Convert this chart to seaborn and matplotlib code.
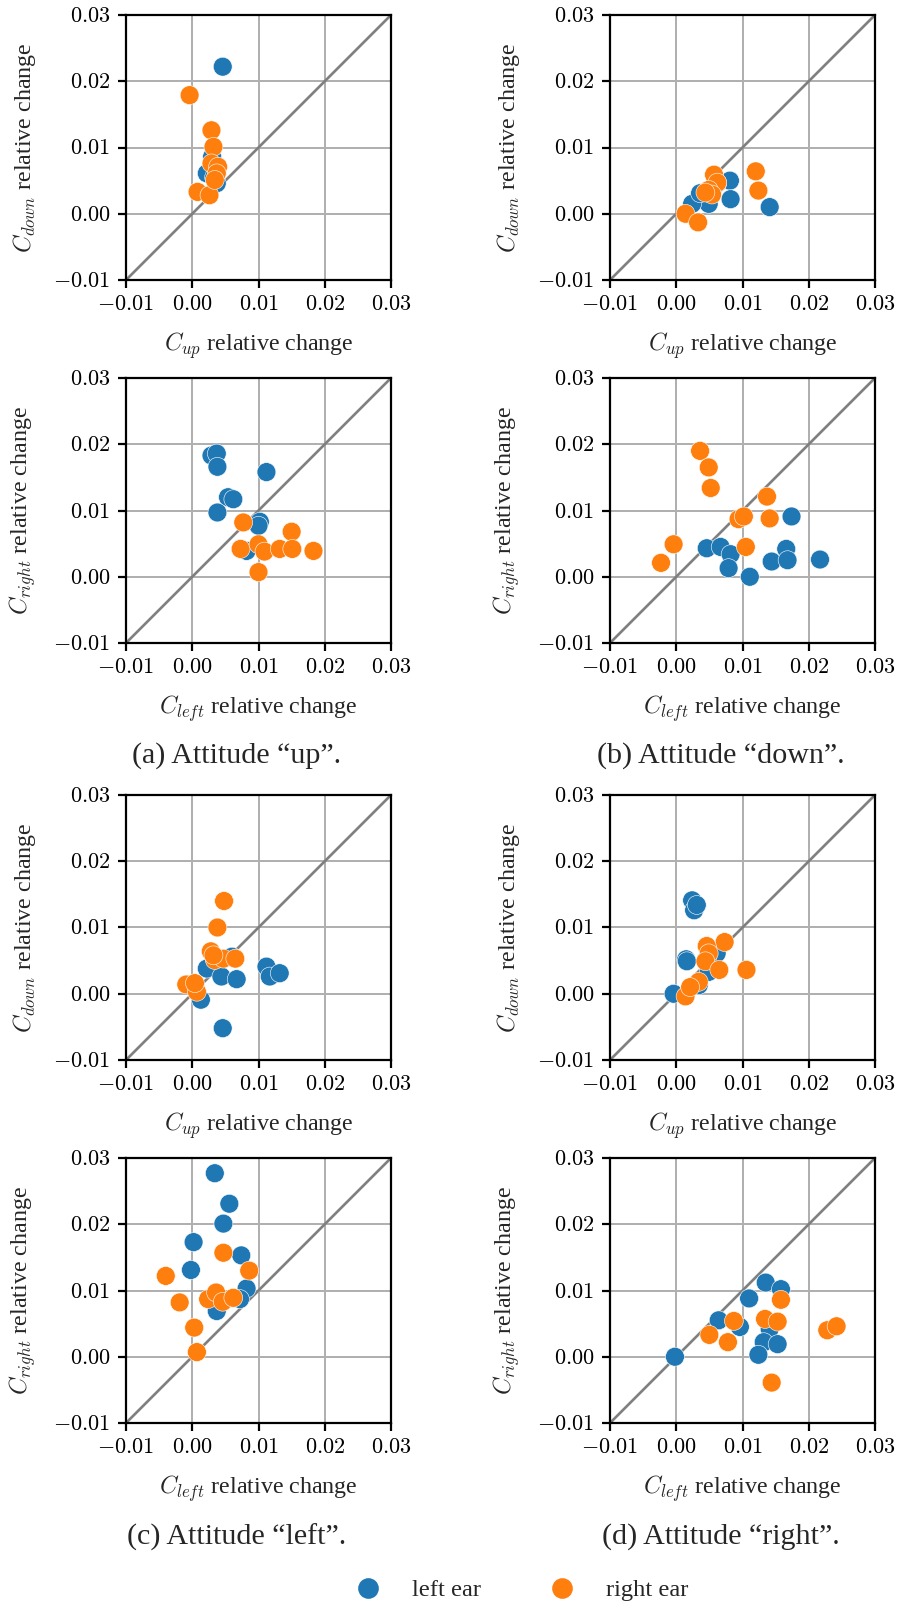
import numpy as np
import pandas as pd
import seaborn as sns
import matplotlib.pyplot as plt
from matplotlib.ticker import FuncFormatter
from matplotlib.lines import Line2D

# relative changes, one pair of lists per ear and panel
# attitude "up"
up_ud_left_x = [0.0046, 0.0030, 0.0022, 0.0037, 0.0033]
up_ud_left_y = [0.0222, 0.0086, 0.0061, 0.0046, 0.0055]
up_ud_right_x = [-0.0004, 0.0029, 0.0032, 0.0029, 0.0039, 0.0037, 0.0008, 0.0026, 0.0034]
up_ud_right_y = [0.0179, 0.0126, 0.0101, 0.0076, 0.0071, 0.0061, 0.0033, 0.0028, 0.0051]
up_lr_left_x = [0.0029, 0.0037, 0.0038, 0.0112, 0.0054, 0.0062, 0.0038, 0.0102, 0.0100, 0.0082]
up_lr_left_y = [0.0183, 0.0186, 0.0166, 0.0158, 0.0120, 0.0117, 0.0097, 0.0083, 0.0077, 0.0039]
up_lr_right_x = [0.0077, 0.0073, 0.0100, 0.0109, 0.0132, 0.0150, 0.0151, 0.0183, 0.0100]
up_lr_right_y = [0.0082, 0.0042, 0.0049, 0.0038, 0.0042, 0.0068, 0.0042, 0.0039, 0.0007]

# attitude "down"
down_ud_left_x = [0.0081, 0.0082, 0.0141, 0.0049, 0.0024, 0.0036, 0.0062]
down_ud_left_y = [0.0050, 0.0022, 0.0010, 0.0015, 0.0015, 0.0031, 0.0046]
down_ud_right_x = [0.0120, 0.0124, 0.0057, 0.0062, 0.0049, 0.0054, 0.0044, 0.0014, 0.0033]
down_ud_right_y = [0.0064, 0.0035, 0.0059, 0.0047, 0.0036, 0.0029, 0.0032, 0.0000, -0.0013]
down_lr_left_x = [0.0174, 0.0046, 0.0067, 0.0082, 0.0079, 0.0111, 0.0144, 0.0166, 0.0168, 0.0217]
down_lr_left_y = [0.0091, 0.0043, 0.0045, 0.0034, 0.0013, 0.0000, 0.0023, 0.0042, 0.0025, 0.0026]
down_lr_right_x = [0.0036, 0.0049, 0.0052, 0.0137, 0.0141, 0.0094, 0.0102, 0.0105, -0.0004, -0.0023]
down_lr_right_y = [0.0190, 0.0165, 0.0134, 0.0121, 0.0088, 0.0087, 0.0091, 0.0045, 0.0049, 0.0021]

# attitude "left"
left_ud_left_x = [0.0022, 0.0044, 0.0067, 0.0060, 0.0112, 0.0117, 0.0132, 0.0013, 0.0046]
left_ud_left_y = [0.0038, 0.0026, 0.0022, 0.0056, 0.0041, 0.0026, 0.0031, -0.0009, -0.0052]
left_ud_right_x = [0.0048, 0.0038, 0.0028, -0.0009, 0.0007, 0.0004, 0.0034, 0.0047, 0.0065, 0.0032]
left_ud_right_y = [0.0140, 0.0100, 0.0064, 0.0014, 0.0003, 0.0016, 0.0051, 0.0053, 0.0053, 0.0058]
left_lr_left_x = [0.0034, 0.0056, 0.0047, 0.0002, -0.0002, 0.0074, 0.0082, 0.0072, 0.0037]
left_lr_left_y = [0.0277, 0.0231, 0.0201, 0.0173, 0.0131, 0.0153, 0.0103, 0.0087, 0.0069]
left_lr_right_x = [0.0047, 0.0086, -0.0040, -0.0019, 0.0024, 0.0036, 0.0046, 0.0062, 0.0003, 0.0007]
left_lr_right_y = [0.0157, 0.0130, 0.0122, 0.0082, 0.0087, 0.0097, 0.0083, 0.0089, 0.0044, 0.0007]

# attitude "right"
right_ud_left_x = [0.0024, 0.0027, 0.0031, 0.0015, 0.0016, -0.0004, 0.0034, 0.0049, 0.0061, 0.0046]
right_ud_left_y = [0.0141, 0.0126, 0.0134, 0.0052, 0.0049, 0.0000, 0.0013, 0.0033, 0.0061, 0.0051]
right_ud_right_x = [0.0073, 0.0046, 0.0049, 0.0044, 0.0065, 0.0106, 0.0034, 0.0014, 0.0021]
right_ud_right_y = [0.0078, 0.0072, 0.0061, 0.0049, 0.0036, 0.0036, 0.0018, -0.0004, 0.0010]
right_lr_left_x = [-0.0002, 0.0064, 0.0096, 0.0110, 0.0135, 0.0158, 0.0141, 0.0132, 0.0124, 0.0153]
right_lr_left_y = [0.0000, 0.0055, 0.0045, 0.0088, 0.0112, 0.0102, 0.0042, 0.0022, 0.0003, 0.0019]
right_lr_right_x = [0.0158, 0.0134, 0.0153, 0.0087, 0.0050, 0.0078, 0.0228, 0.0242, 0.0144]
right_lr_right_y = [0.0086, 0.0057, 0.0053, 0.0054, 0.0033, 0.0022, 0.0040, 0.0046, -0.0039]

attitudes = ["up", "down", "left", "right"]
captions = ["(a) Attitude \u201cup\u201d.", "(b) Attitude \u201cdown\u201d.",
            "(c) Attitude \u201cleft\u201d.", "(d) Attitude \u201cright\u201d."]
ticks = [-0.01, 0.00, 0.01, 0.02, 0.03]
ear_names = ["left ear", "right ear"]
ear_colors = ["#1f77b4", "#ff7f0e"]

g = globals()
rows = []
for att in attitudes:
    for pair in ["ud", "lr"]:
        for ear, ename in zip(["left", "right"], ear_names):
            xs = g[f"{att}_{pair}_{ear}_x"]
            ys = g[f"{att}_{pair}_{ear}_y"]
            for x, y in zip(xs, ys):
                rows.append({"attitude": att, "pair": pair, "ear": ename, "x": x, "y": y})
df = pd.DataFrame(rows)

sns.set_style("ticks")
plt.rcParams["font.family"] = ["Liberation Serif", "DejaVu Serif"]
plt.rcParams["mathtext.fontset"] = "cm"
plt.rcParams["axes.linewidth"] = 1.0
plt.rcParams["xtick.major.width"] = 1.0
plt.rcParams["ytick.major.width"] = 1.0
plt.rcParams["xtick.color"] = "black"
plt.rcParams["ytick.color"] = "black"
plt.rcParams["axes.edgecolor"] = "black"

fig = plt.figure(figsize=(900 / 160, 1605 / 160), dpi=160)

col_left = [126 / 900, 610 / 900]
ax_w = 265 / 900
ax_h = 265 / 1605
# axes bottoms in pixels from the top
bottoms = [[280, 643], [1060, 1423]]

fmt = FuncFormatter(lambda v, p: "$%.2f$" % (0.0 if abs(v) < 1e-9 else v))

for i, att in enumerate(attitudes):
    r, c = divmod(i, 2)
    for j, pair in enumerate(["ud", "lr"]):
        b = 1 - bottoms[r][j] / 1605
        ax = fig.add_axes([col_left[c], b, ax_w, ax_h])
        sub = df[(df.attitude == att) & (df.pair == pair)]
        ax.axline((0, 0), slope=1, color="gray", lw=1.2, zorder=2)
        sns.scatterplot(data=sub, x="x", y="y", hue="ear", hue_order=ear_names,
                        palette=ear_colors, s=72, linewidth=0.25, edgecolor="white",
                        legend=False, ax=ax, zorder=3)
        ax.set_xlim(-0.01, 0.03)
        ax.set_ylim(-0.01, 0.03)
        ax.set_xticks(ticks)
        ax.set_yticks(ticks)
        ax.xaxis.set_major_formatter(fmt)
        ax.yaxis.set_major_formatter(fmt)
        ax.tick_params(labelsize=10, length=3.6)
        ax.grid(True, color="#b0b0b0", lw=0.9, zorder=0)
        ax.set_axisbelow(True)
        if pair == "ud":
            ax.set_xlabel(r"$C_{up}$ relative change", fontsize=10.8, labelpad=7)
            ax.set_ylabel(r"$C_{down}$ relative change", fontsize=10.8, labelpad=7)
        else:
            ax.set_xlabel(r"$C_{left}$ relative change", fontsize=10.8, labelpad=7)
            ax.set_ylabel(r"$C_{right}$ relative change", fontsize=10.8, labelpad=7)

    cap_x = [237 / 900, 721 / 900][c]
    cap_y = 1 - [756, 1537][r] / 1605
    fig.text(cap_x, cap_y, captions[i], ha="center", va="center", fontsize=13.5)

handles = [Line2D([], [], marker="o", ls="", color=col, markersize=8.3) for col in ear_colors]
fig.legend(handles, ear_names, loc="center", bbox_to_anchor=(0.573, 1 - 1590 / 1605),
           ncol=2, frameon=False, fontsize=11, columnspacing=2.3, handletextpad=0.8,
           handlelength=2.0)

fig.savefig("out.png", dpi=160)
